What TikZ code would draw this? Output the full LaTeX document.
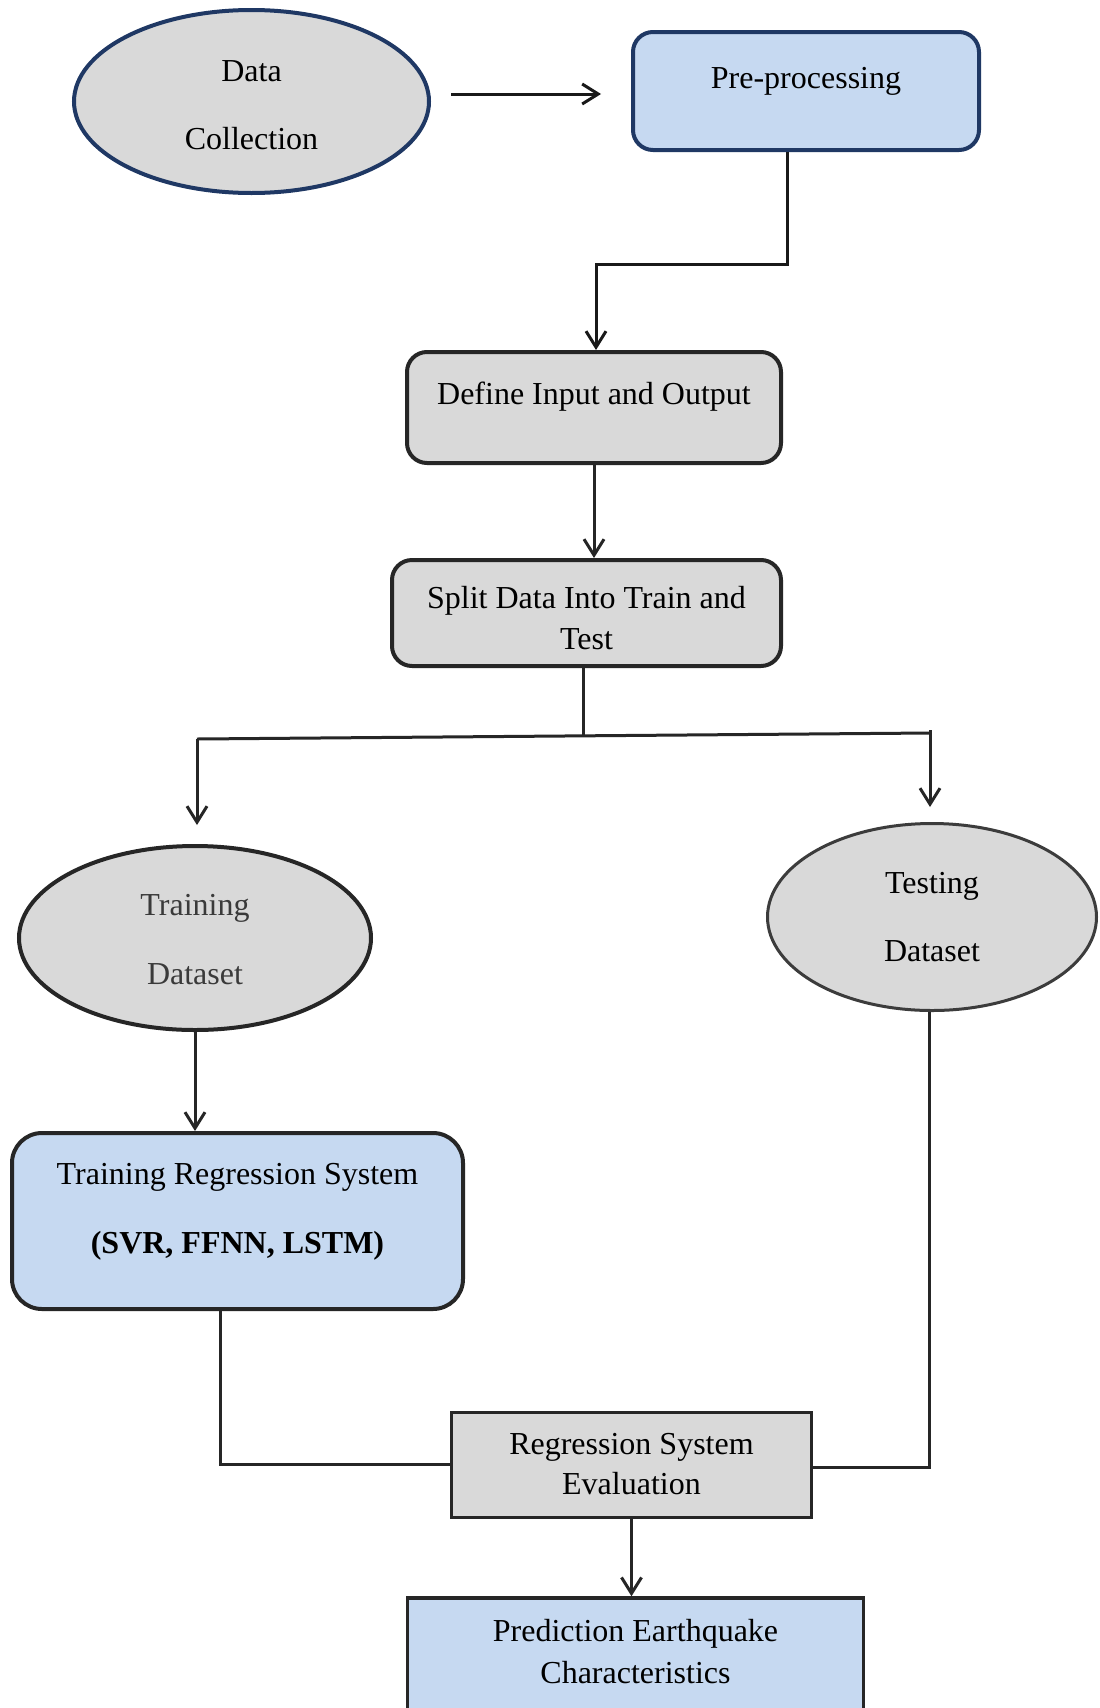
\documentclass[tikz,border=0pt]{standalone}
\usepackage{fontspec}
\setmainfont{Liberation Serif}
\usetikzlibrary{shapes.geometric,arrows.meta}
\definecolor{grayfill}{HTML}{D9D9D9}
\definecolor{bluefill}{HTML}{C6D9F1}
\definecolor{navy}{HTML}{1F3864}
\definecolor{edge}{HTML}{262626}
\definecolor{softtext}{HTML}{3A3A3A}

\begin{document}
\begin{tikzpicture}[x=0.5pt,y=-0.5pt,
  every node/.style={font=\fontsize{16}{20}\selectfont, align=center,
    text height=12pt, inner sep=0pt},
  oval/.style={ellipse, draw=edge, line width=2pt, fill=grayfill},
  rbox/.style={rectangle, rounded corners=10pt, draw=edge, line width=2pt, fill=grayfill},
  sbox/.style={rectangle, draw=edge, line width=1.5pt, fill=grayfill},
  link/.style={draw=edge, line width=1.5pt},
  arr/.style={link, -{Straight Barb[length=8pt,width=10pt]}},
]
% page area
\clip (0,0) rectangle (1099,1708);
\fill[white] (0,0) rectangle (1099,1708);

% ---- nodes ----
% (two-line texts: the node baseline is the last line, so text height/depth
%  place that line relative to the shape centre)
\node[oval, draw=navy, minimum width=177.5pt, minimum height=91.5pt,
      text height=51.5pt, text depth=4pt, font=\fontsize{16}{34}\selectfont]
  (dc) at (251.5,101.5) {Data\\Collection};

\node[rbox, draw=navy, fill=bluefill, minimum width=173pt, minimum height=59pt,
      text depth=15pt]
  (pre) at (806,91) {Pre-processing};

\node[rbox, minimum width=187pt, minimum height=55.5pt, text depth=15.5pt]
  (def) at (594,407.5) {Define Input and Output};

\node[rbox, minimum width=194.5pt, minimum height=53pt,
      text height=40pt, text depth=4pt, font=\fontsize{16}{20.5}\selectfont]
  (split) at (586.5,613) {Split Data Into Train and\\Test};

\node[oval, minimum width=176pt, minimum height=92pt,
      text height=50pt, text depth=4pt,
      text=softtext, font=\fontsize{16}{34.5}\selectfont]
  (train) at (195,938) {Training\\Dataset};

\node[oval, draw=edge!90, line width=1.5pt, minimum width=164.5pt, minimum height=93.5pt,
      text height=48pt, text depth=4pt, font=\fontsize{16}{34}\selectfont]
  (test) at (932,917) {Testing\\Dataset};

\node[rbox, rounded corners=15pt, fill=bluefill, minimum width=225.5pt,
      minimum height=88pt, text height=36pt, text depth=4pt,
      font=\fontsize{16}{34.5}\selectfont]
  (trs) at (237.5,1221) {Training Regression System\\\textbf{(SVR, FFNN, LSTM)}};

\node[sbox, minimum width=180pt, minimum height=52.5pt,
      text height=33pt, text depth=4pt]
  (eval) at (631.5,1465) {Regression System\\Evaluation};

\node[sbox, fill=bluefill, line width=1.75pt, minimum width=228pt, minimum height=71pt,
      text height=18pt, text depth=4pt, font=\fontsize{16}{21}\selectfont]
  (pred) at (635.5,1669) {Prediction Earthquake\\Characteristics};

% ---- connectors ----
\coordinate (ay) at (0,94);
\draw[arr, draw=black!90, shorten <=10pt, shorten >=15pt] (dc.east |- ay) -- (pre.west |- ay);

\coordinate (pb) at (787,264);
\coordinate (pd) at (596,264);
\draw[arr, draw=black!90] (pre.south -| pb) -- (pb) -- (pd) -- (pd |- def.north);

\draw[arr] (def.south) -- (def.south |- split.north);

\coordinate (j) at (583,737);
\coordinate (sl) at (197,739);
\coordinate (sr) at (930,733);
\coordinate (srt) at (930,730);
\draw[link] (split.south -| j) -- (j);
\draw[link] (sl) -- (sr);
\draw[arr, shorten >=9.5pt] (sl) -- (sl |- train.north);
\draw[arr, shorten >=7.5pt] (srt) -- (srt |- test.north);

\draw[arr] (train.south) -- (train.south |- trs.north);

\coordinate (tl) at (220,1464);
\coordinate (tr) at (929,1467);
\draw[link] (trs.south -| tl) -- (tl) -- (tl -| eval.west);
\draw[link] (test.south -| tr) -- (tr) -- (tr -| eval.east);

\draw[arr] (eval.south) -- (eval.south |- pred.north);
\end{tikzpicture}
\end{document}
